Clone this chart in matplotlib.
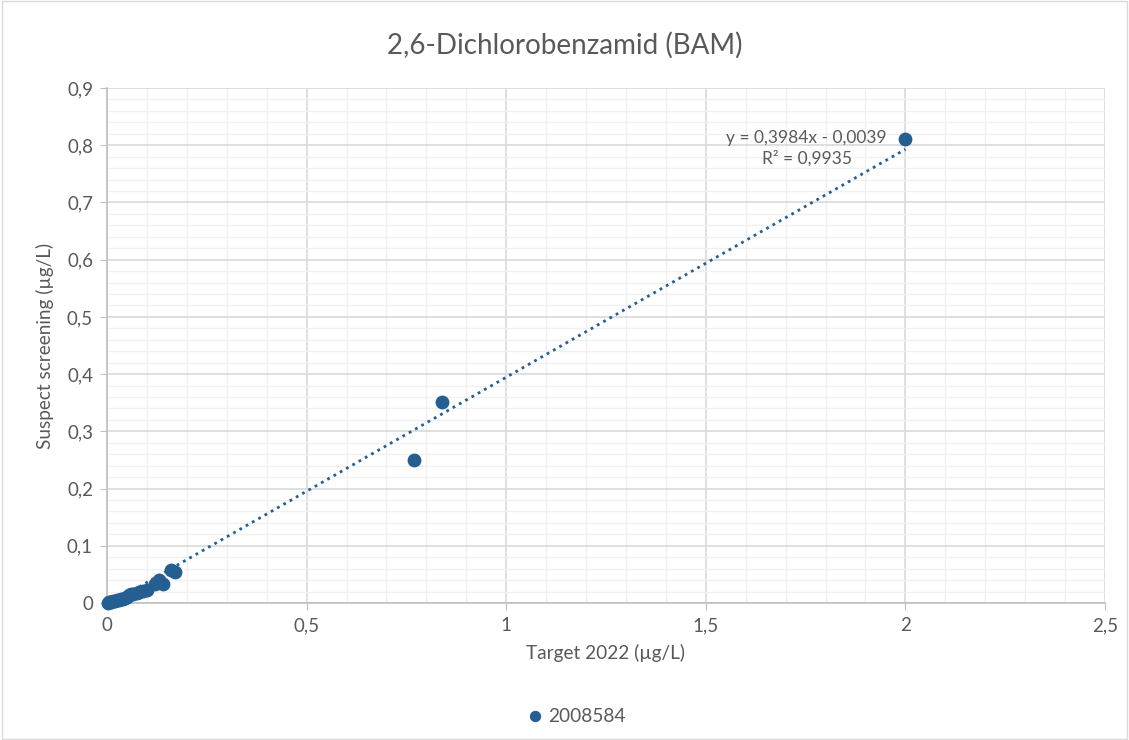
import matplotlib
matplotlib.use("Agg")
import matplotlib.pyplot as plt
from matplotlib.ticker import MultipleLocator, FuncFormatter
import numpy as np

title = "2,6-Dichlorobenzamid (BAM)"
series_name = "2008584"
x_label = "Target 2022 (µg/L)"
y_label = "Suspect screening (µg/L)"

target = [0.002, 0.005, 0.008, 0.01, 0.015, 0.02, 0.025, 0.03, 0.035, 0.04, 0.045, 0.05,
          0.055, 0.06, 0.065, 0.075, 0.08, 0.09, 0.1, 0.12, 0.13, 0.14, 0.16, 0.17,
          0.77, 0.84, 2.0]
suspect = [0.0, 0.001, 0.001, 0.002, 0.003, 0.004, 0.005, 0.006, 0.007, 0.007, 0.008, 0.01,
           0.014, 0.015, 0.016, 0.017, 0.02, 0.021, 0.022, 0.034, 0.04, 0.034, 0.058, 0.055,
           0.25, 0.352, 0.81]

slope = 0.3984
intercept = -0.0039
eq_text = "y = 0,3984x - 0,0039\nR² = 0,9935"

plt.rcParams['font.family'] = ['Lato', 'DejaVu Sans']
grey = '#595959'
blue = '#255e91'

fig = plt.figure(figsize=(11.29, 7.40), dpi=100)
ax = fig.add_axes([107/1129, 1-603/740, (1105-107)/1129, (603-88)/740])

ax.set_xlim(0, 2.5)
ax.set_ylim(0, 0.9)
ax.xaxis.set_major_locator(MultipleLocator(0.5))
ax.xaxis.set_minor_locator(MultipleLocator(0.1))
ax.yaxis.set_major_locator(MultipleLocator(0.1))
ax.yaxis.set_minor_locator(MultipleLocator(0.02))
fmt = FuncFormatter(lambda v, p: ('%g' % round(v, 3)).replace('.', ','))
ax.xaxis.set_major_formatter(fmt)
ax.yaxis.set_major_formatter(fmt)

ax.grid(which='major', color='#d9d9d9', linewidth=1.2)
ax.grid(which='minor', color='#f0f0f0', linewidth=1.0)
ax.set_axisbelow(True)
for s in ['top', 'right']:
    ax.spines[s].set_visible(False)
for s in ['left', 'bottom']:
    ax.spines[s].set_color('#bfbfbf')
    ax.spines[s].set_linewidth(1.2)
ax.tick_params(which='major', length=5, color='#bfbfbf', labelcolor=grey, labelsize=13.5, pad=5)
ax.tick_params(which='minor', length=0)

xs = np.array([min(target), max(target)])
ax.plot(xs, slope*xs + intercept, linestyle=(0, (1, 1.6)), color=blue, linewidth=2.0, zorder=2)
ax.scatter(target, suspect, s=80, color=blue, zorder=3, label=series_name, clip_on=False)

ax.text(1.753, 0.7946, eq_text, ha='center', va='center', fontsize=12.5, color=grey,
        linespacing=1.25)

ax.set_xlabel(x_label, fontsize=13.7, color=grey, labelpad=7)
ax.set_ylabel(y_label, fontsize=13.7, color=grey, labelpad=9)
fig.text(0.5, 1-45/740, title, ha='center', va='center', fontsize=20, color=grey)

leg = fig.legend(loc='center', bbox_to_anchor=(0.5106, 1-716/740), frameon=False,
                 fontsize=13.8, handletextpad=0.3, handlelength=0.8, markerscale=0.8)
for t in leg.get_texts():
    t.set_color(grey)

fig.patches.append(plt.Rectangle((0.002, 0.002), 0.996, 0.996, transform=fig.transFigure,
                                 fill=False, edgecolor='#d9d9d9', linewidth=1))
fig.savefig("out.png", dpi=100, facecolor='white')
